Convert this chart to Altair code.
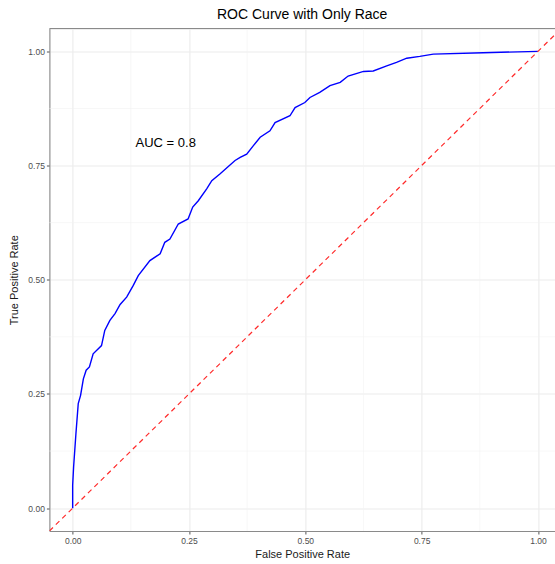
import altair as alt
import pandas as pd

# ROC curve points (false positive rate, true positive rate)
fpr = [0.0, 0.0, 0.002, 0.007, 0.012, 0.017, 0.023, 0.029, 0.036, 0.044,
       0.062, 0.069, 0.080, 0.091, 0.102, 0.116, 0.130, 0.141, 0.166, 0.188,
       0.198, 0.209, 0.227, 0.248, 0.258, 0.270, 0.288, 0.299, 0.317, 0.349,
       0.360, 0.374, 0.388, 0.403, 0.424, 0.435, 0.467, 0.478, 0.499, 0.510,
       0.531, 0.553, 0.575, 0.592, 0.625, 0.646, 0.675, 0.696, 0.718, 0.746,
       0.775, 0.882, 1.0]
tpr = [0.0, 0.05, 0.09, 0.163, 0.229, 0.247, 0.283, 0.302, 0.309, 0.338,
       0.356, 0.389, 0.411, 0.426, 0.446, 0.462, 0.487, 0.509, 0.542, 0.557,
       0.582, 0.589, 0.622, 0.633, 0.659, 0.673, 0.699, 0.717, 0.732, 0.761,
       0.768, 0.775, 0.793, 0.812, 0.826, 0.844, 0.859, 0.877, 0.888, 0.899,
       0.910, 0.925, 0.932, 0.946, 0.956, 0.957, 0.968, 0.976, 0.985, 0.989,
       0.994, 0.997, 1.0]

# reference diagonal (random classifier), slope 1 through the origin
diag = [-0.05, 1.05]

major_ticks = [0.0, 0.25, 0.5, 0.75, 1.0]
minor_ticks = [0.125, 0.375, 0.625, 0.875]

auc_label = "AUC = 0.8"
auc_pos = (0.2, 0.8)

FONT = "Liberation Sans"
X_DOMAIN = [-0.05, 1.0366]
Y_DOMAIN = [-0.05, 1.05]

roc_df = pd.DataFrame({"fpr": fpr, "tpr": tpr, "order": range(len(fpr))})
diag_df = pd.DataFrame({"fpr": diag, "tpr": diag})
minor_df = pd.DataFrame({"v": minor_ticks})

xs = alt.Scale(domain=X_DOMAIN, nice=False, zero=False)
ys = alt.Scale(domain=Y_DOMAIN, nice=False, zero=False)

x_axis = alt.Axis(values=major_ticks, format=".2f", title="False Positive Rate",
                  grid=True, gridColor="#EBEBEB", gridWidth=1.1,
                  domainColor="#8A8A8A", domainWidth=1, tickColor="#555555",
                  tickSize=3, labelPadding=2, labelFontSize=8.5, labelColor="#4D4D4D",
                  labelFont=FONT, titleFont=FONT, titleFontSize=11,
                  titleFontWeight="normal", titleColor="#1A1A1A", titlePadding=4)
y_axis = alt.Axis(values=major_ticks, format=".2f", title="True Positive Rate",
                  grid=True, gridColor="#EBEBEB", gridWidth=1.1,
                  domainColor="#8A8A8A", domainWidth=1, tickColor="#555555",
                  tickSize=3, labelPadding=2, labelFontSize=8.5, labelColor="#4D4D4D",
                  labelFont=FONT, titleFont=FONT, titleFontSize=11,
                  titleFontWeight="normal", titleColor="#1A1A1A", titlePadding=8)

minor_v = alt.Chart(minor_df).mark_rule(color="#F2F2F2", strokeWidth=0.6).encode(
    x=alt.X("v:Q", scale=xs, axis=x_axis))
minor_h = alt.Chart(minor_df).mark_rule(color="#F2F2F2", strokeWidth=0.6).encode(
    y=alt.Y("v:Q", scale=ys, axis=y_axis))

top_border = alt.Chart(pd.DataFrame({"k": [0]})).mark_rule(
    color="#8A8A8A", strokeWidth=1).encode(y=alt.value(0))

roc = alt.Chart(roc_df).mark_line(color="#0000FF", strokeWidth=1.4).encode(
    x=alt.X("fpr:Q", scale=xs, axis=x_axis),
    y=alt.Y("tpr:Q", scale=ys, axis=y_axis),
    order="order:Q")

diagonal = alt.Chart(diag_df).mark_line(
    color="#FF2A2A", strokeWidth=1.2, strokeDash=[5, 4], clip=True).encode(
    x=alt.X("fpr:Q", scale=xs, axis=x_axis),
    y=alt.Y("tpr:Q", scale=ys, axis=y_axis))

label = alt.Chart(pd.DataFrame({"fpr": [auc_pos[0]], "tpr": [auc_pos[1]],
                                "text": [auc_label]})).mark_text(
    font=FONT, fontSize=13, color="#000000", align="center", baseline="middle").encode(
    x=alt.X("fpr:Q", scale=xs, axis=x_axis),
    y=alt.Y("tpr:Q", scale=ys, axis=y_axis),
    text="text:N")

chart = alt.layer(minor_v, minor_h, roc, diagonal, label, top_border).properties(
    width=505.6,
    height=502.5,
    title=alt.TitleParams("ROC Curve with Only Race", font=FONT, fontSize=14,
                          fontWeight="normal", color="#000000", anchor="middle",
                          offset=6),
    autosize=alt.AutoSizeParams(type="none"),
    padding={"left": 49.4, "top": 28.5, "right": 0, "bottom": 33},
).configure_view(stroke=None).configure(background="white")

chart.save("out.html", embed_options={"renderer": "svg", "actions": False})
